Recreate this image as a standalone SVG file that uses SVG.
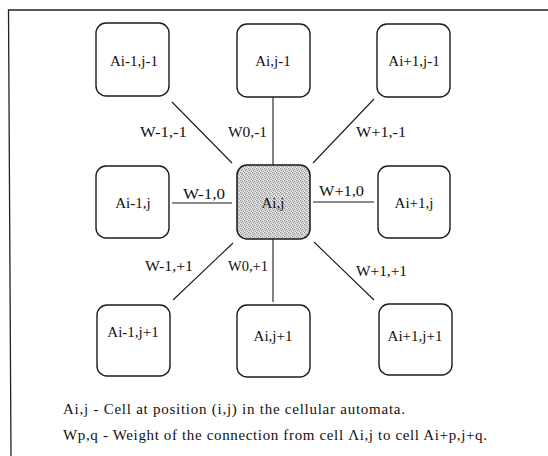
<svg xmlns="http://www.w3.org/2000/svg" width="548" height="456" viewBox="0 0 548 456">
  <defs>
    <style>
      .cell { fill: #ffffff; stroke: #1a1a1a; stroke-width: 1.4; }
      .centre { fill: url(#stipple); stroke: #1a1a1a; stroke-width: 1.5; }
      .name { font-family: "Liberation Serif", "Times New Roman", serif; font-size: 15px; fill: #111; text-anchor: middle; }
      .weight { font-family: "Liberation Serif", "Times New Roman", serif; font-size: 15.5px; fill: #111; }
      .note { font-family: "Liberation Serif", "Times New Roman", serif; font-size: 15px; fill: #111; }
      .link { stroke: #1a1a1a; stroke-width: 1.1; fill: none; }
      .frame { stroke: #222; stroke-width: 1.3; fill: none; }
    </style>
    <!-- grainy grey fill of the centre cell -->
    <pattern id="stipple" width="4" height="4" patternUnits="userSpaceOnUse">
      <rect width="4" height="4" fill="#d6d6d6"/>
      <rect x="0" y="0" width="1" height="1" fill="#8a8a8a"/>
      <rect x="2" y="1" width="1" height="1" fill="#9a9a9a"/>
      <rect x="1" y="2" width="1" height="1" fill="#929292"/>
      <rect x="3" y="3" width="1" height="1" fill="#a4a4a4"/>
      <rect x="3" y="0" width="1" height="1" fill="#eeeeee"/>
      <rect x="0" y="3" width="1" height="1" fill="#ececec"/>
    </pattern>
  </defs>

  <rect width="548" height="456" fill="#ffffff"/>

  <!-- open frame: top and left edges -->
  <path class="frame" d="M548 10 L8.5 10 L11 456"/>

  <!-- connectors from the centre cell to its neighbours -->
  <g id="connectors">
    <line class="link" x1="172" y1="102" x2="232" y2="163"/>
    <line class="link" x1="273" y1="97" x2="273" y2="166"/>
    <line class="link" x1="374" y1="99" x2="313" y2="163"/>
    <line class="link" x1="172" y1="203" x2="232" y2="203"/>
    <line class="link" x1="313" y1="202" x2="374" y2="202"/>
    <line class="link" x1="233" y1="243" x2="173" y2="300"/>
    <line class="link" x1="273" y1="238" x2="273" y2="302"/>
    <line class="link" x1="314" y1="242" x2="374" y2="300"/>
    <text class="weight" x="140" y="137" textLength="47" lengthAdjust="spacingAndGlyphs">W-1,-1</text>
    <text class="weight" x="228" y="137" textLength="39" lengthAdjust="spacingAndGlyphs">W0,-1</text>
    <text class="weight" x="356" y="137" textLength="50" lengthAdjust="spacingAndGlyphs">W+1,-1</text>
    <text class="weight" x="183" y="199" textLength="42" lengthAdjust="spacingAndGlyphs">W-1,0</text>
    <text class="weight" x="319" y="196" textLength="45" lengthAdjust="spacingAndGlyphs">W+1,0</text>
    <text class="weight" x="145" y="271" textLength="48" lengthAdjust="spacingAndGlyphs">W-1,+1</text>
    <text class="weight" x="228" y="271" textLength="40" lengthAdjust="spacingAndGlyphs">W0,+1</text>
    <text class="weight" x="356" y="276" textLength="51" lengthAdjust="spacingAndGlyphs">W+1,+1</text>
  </g>

  <g id="cell-im1-jm1">
    <rect class="cell" x="96" y="23" width="73" height="73" rx="10"/>
    <text class="name" x="134" y="66">Ai-1,j-1</text>
  </g>
  <g id="cell-i-jm1">
    <rect class="cell" x="237" y="24" width="73" height="73" rx="10"/>
    <text class="name" x="273" y="66">Ai,j-1</text>
  </g>
  <g id="cell-ip1-jm1">
    <rect class="cell" x="377" y="24" width="73" height="73" rx="10"/>
    <text class="name" x="414" y="66">Ai+1,j-1</text>
  </g>

  <g id="cell-im1-j">
    <rect class="cell" x="96" y="166" width="73" height="72" rx="10"/>
    <text class="name" x="133" y="208">Ai-1,j</text>
  </g>
  <g id="cell-i-j">
    <rect class="centre" x="237" y="165" width="73" height="74" rx="10"/>
    <text class="name" x="273" y="208">Ai,j</text>
  </g>
  <g id="cell-ip1-j">
    <rect class="cell" x="378" y="166" width="72" height="72" rx="10"/>
    <text class="name" x="414" y="208">Ai+1,j</text>
  </g>

  <g id="cell-im1-jp1">
    <rect class="cell" x="97" y="305" width="73" height="71" rx="10"/>
    <text class="name" x="133" y="337">Ai-1,j+1</text>
  </g>
  <g id="cell-i-jp1">
    <rect class="cell" x="237" y="305" width="73" height="72" rx="10"/>
    <text class="name" x="273" y="341">Ai,j+1</text>
  </g>
  <g id="cell-ip1-jp1">
    <rect class="cell" x="379" y="304" width="73" height="71" rx="10"/>
    <text class="name" x="415" y="341">Ai+1,j+1</text>
  </g>

  <!-- legend -->
  <text class="note" x="63" y="414" textLength="342" lengthAdjust="spacing">Ai,j - Cell at position (i,j) in the cellular automata.</text>
  <text class="note" x="63" y="440" textLength="424" lengthAdjust="spacing">Wp,q - Weight of the connection from cell Λi,j to cell Ai+p,j+q.</text>
</svg>
